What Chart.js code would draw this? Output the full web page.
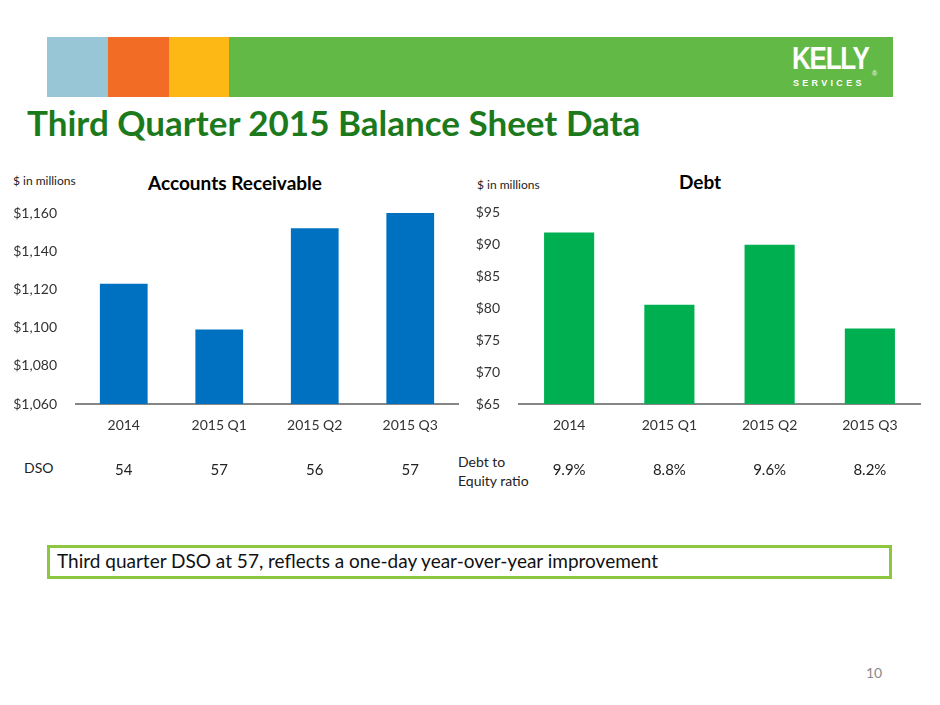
<!DOCTYPE html>
<html>
<head>
<meta charset="utf-8">
<script src="https://cdn.jsdelivr.net/npm/chart.js@4.4.0/dist/chart.umd.min.js"></script>
<style>
  body { margin:0; background:#fff; font-family: Lato, "Open Sans", sans-serif; }
  #page { position:relative; width:940px; height:705px; overflow:hidden; }
  .blk { position:absolute; top:37px; height:60px; }
  .txt { position:absolute; white-space:nowrap; }
  .wrap { position:absolute; top:160px; height:330px; }
</style>
</head>
<body>
<div id="page">
  <div class="blk" style="left:47px;width:61px;background:#99c6d6"></div>
  <div class="blk" style="left:108px;width:61px;background:#f26c25"></div>
  <div class="blk" style="left:169px;width:60px;background:#fdb815"></div>
  <div class="blk" style="left:229px;width:664px;background:#63b946"></div>
  <div class="txt" style="left:792px;top:41px;color:#fff;font:bold 31px 'Liberation Sans Narrow','Liberation Sans',sans-serif;letter-spacing:-1.5px;transform:scaleX(0.84);transform-origin:left top">KELLY</div>
  <div class="txt" style="left:872px;top:70px;color:#fff;font:7px 'Liberation Sans',sans-serif">®</div>
  <div class="txt" style="left:793px;top:78px;color:#fff;font:bold 9px 'Liberation Sans',sans-serif;letter-spacing:3.3px">SERVICES</div>

  <div class="txt" style="left:27px;top:101px;color:#1c7a1c;font:bold 35px Lato,sans-serif">Third Quarter 2015 Balance Sheet Data</div>

  <div class="txt" style="left:13px;top:173px;color:#222;font:12px Lato,sans-serif">$ in millions</div>
  <div class="txt" style="left:148px;top:171px;color:#000;font:bold 19px Lato,sans-serif">Accounts Receivable</div>
  <div class="txt" style="left:24px;top:459px;color:#222;font:14px Lato,sans-serif">DSO</div>

  <div class="txt" style="left:477px;top:177px;color:#222;font:12px Lato,sans-serif">$ in millions</div>
  <div class="txt" style="left:679px;top:170px;color:#000;font:bold 19px Lato,sans-serif">Debt</div>
  <div class="txt" style="left:458px;top:452px;color:#222;font:14px/19px Lato,sans-serif">Debt to<br>Equity ratio</div>

  <div class="wrap" style="left:0px;width:462px"><canvas id="arChart"></canvas></div>
  <div class="wrap" style="left:455px;width:470px"><canvas id="debtChart"></canvas></div>

  <div style="position:absolute;left:47px;top:545px;width:839px;height:28px;border:3px solid #8dc63f"></div>
  <div class="txt" style="left:57px;top:549px;color:#111;font:19px Lato,sans-serif">Third quarter DSO at 57, reflects a one-day year-over-year improvement</div>
  <div class="txt" style="left:866px;top:664px;color:#8a8a8a;font:14px Lato,sans-serif">10</div>
</div>

<script>
var periods = ['2014', '2015 Q1', '2015 Q2', '2015 Q3'];
var receivables = [1123, 1099, 1152, 1160];
var dso = ['54', '57', '56', '57'];
var debt = [91.8, 80.5, 89.9, 76.8];
var debtToEquity = ['9.9%', '8.8%', '9.6%', '8.2%'];

// writes a row of values under each bar, lined up with the x scale
var rowPlugin = {
    id: 'rowValues',
    afterDraw: function(chart, args, opts) {
        var ctx = chart.ctx;
        var x = chart.scales.x;
        ctx.save();
        ctx.font = '15px Lato, sans-serif';
        ctx.fillStyle = '#222';
        ctx.textAlign = 'center';
        ctx.textBaseline = 'middle';
        opts.values.forEach(function(v, i) {
            ctx.fillText(v, x.getPixelForValue(i), opts.y);
        });
        ctx.restore();
    }
};

function graficoBar(id, dati, colore, yMin, yMax, passo, yWidth, padding, righe) {
    var ctx = document.getElementById(id).getContext('2d');
    return new Chart(ctx, {
        type: 'bar',
        data: {
            labels: periods,
            datasets: [{
                data: dati,
                backgroundColor: colore,
                categoryPercentage: 1,
                barPercentage: 0.5
            }]
        },
        options: {
            responsive: true,
            maintainAspectRatio: false,
            animation: false,
            layout: { padding: padding },
            plugins: {
                legend: { display: false },
                tooltip: { enabled: false },
                rowValues: { values: righe, y: 310 }
            },
            scales: {
                x: {
                    grid: { display: false, drawTicks: false },
                    border: { display: true, color: '#868686', width: 2 },
                    ticks: { color: '#333', font: { family: 'Lato', size: 14 }, padding: 13, maxRotation: 0 },
                    afterFit: function(s) { s.height = 86; }
                },
                y: {
                    min: yMin,
                    max: yMax,
                    grid: { display: false, drawTicks: false },
                    border: { display: false },
                    ticks: {
                        stepSize: passo,
                        color: '#333',
                        font: { family: 'Lato', size: 14 },
                        padding: 19,
                        callback: function(v) { return '$' + v.toLocaleString('en-US'); }
                    },
                    afterFit: function(s) { s.width = yWidth; }
                }
            }
        },
        plugins: [rowPlugin]
    });
}

graficoBar('arChart', receivables, '#0070c0', 1060, 1160, 20, 76, { left: 0, right: 4, top: 53, bottom: 0 }, dso);
graficoBar('debtChart', debt, '#00b050', 65, 95, 5, 64, { left: 0, right: 5, top: 52, bottom: 0 }, debtToEquity);
</script>
</body>
</html>
